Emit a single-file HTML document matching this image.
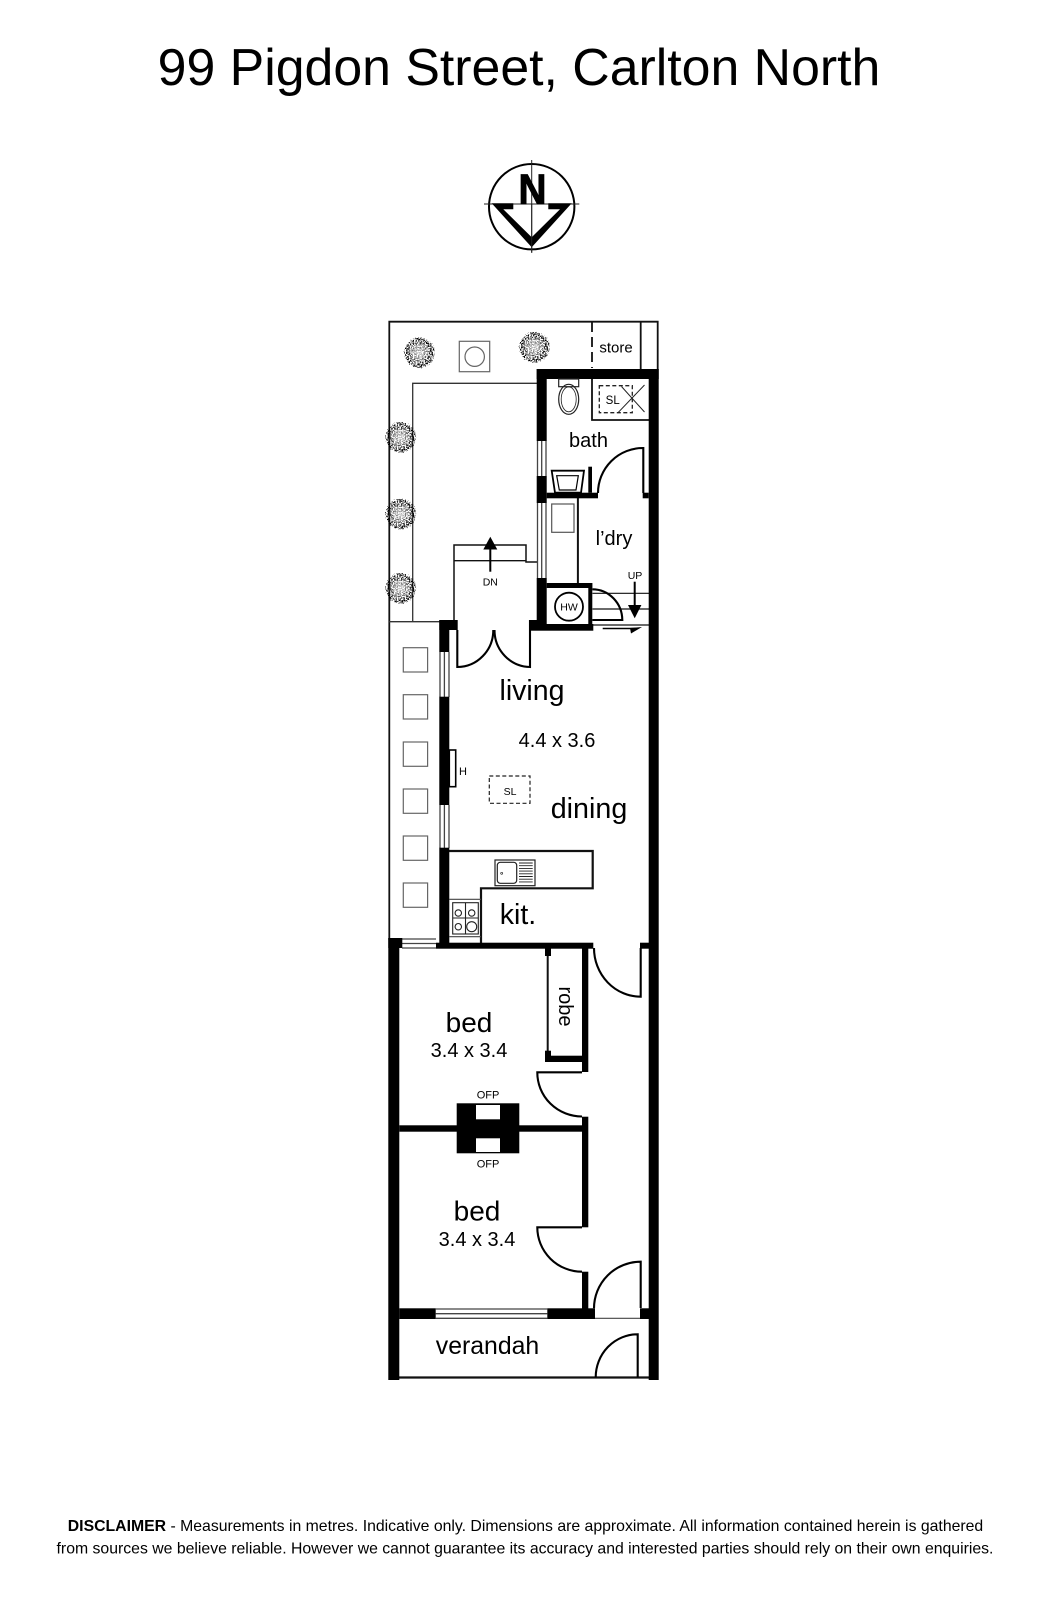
<!DOCTYPE html>
<html><head><meta charset="utf-8"><style>
html,body{margin:0;padding:0;background:#fff}
svg{display:block}
text{font-family:"Liberation Sans",Arial,sans-serif;fill:#000;text-anchor:middle;dominant-baseline:alphabetic}
</style></head><body>
<svg width="1048" height="1600" viewBox="0 0 1048 1600" xmlns="http://www.w3.org/2000/svg">
<defs>
<filter id="sp" x="-30%" y="-30%" width="160%" height="160%">
<feTurbulence type="fractalNoise" baseFrequency="0.75" numOctaves="2" seed="4" result="n"/>
<feDisplacementMap in="SourceGraphic" in2="n" scale="5" xChannelSelector="R" yChannelSelector="G" result="shape"/>
<feColorMatrix in="n" type="matrix" values="0 0 0 0 0  0 0 0 0 0  0 0 0 0 0  7 0 0 0 -3.1" result="d"/>
<feComposite in="d" in2="shape" operator="in"/>
</filter>
<radialGradient id="lg"><stop offset="0" stop-color="#fff" stop-opacity=".7"/><stop offset=".6" stop-color="#fff" stop-opacity=".4"/><stop offset="1" stop-color="#fff" stop-opacity="0"/></radialGradient>
<g id="plant"><circle r="15" fill="#000" filter="url(#sp)"/><circle cx="-1" cy="0" r="12" fill="url(#lg)"/></g>
</defs>
<rect width="1048" height="1600" fill="#fff"/>

<text x="519" y="85" font-size="51.8">99 Pigdon Street, Carlton North</text>

<!-- compass -->
<circle cx="531.7" cy="206.7" r="42.7" fill="none" stroke="#000" stroke-width="2"/>
<path d="M531.7 160V252.7M484 204H579.3" stroke="#222" stroke-width="1"/>
<text x="532.5" y="204" font-size="43" font-weight="bold" textLength="28" lengthAdjust="spacingAndGlyphs" stroke="#000" stroke-width="1">N</text>
<polygon points="491.7,203.3 513.3,203.3 513.3,209.3 503.3,209.3 531.7,237.3 560,209.3 548.3,209.3 548.3,203.3 571.7,203.3 531.7,247.3" fill="#000"/>
<path d="M531.7 204V252.7" stroke="#222" stroke-width="1"/>

<!-- thin outlines -->
<g fill="none" stroke="#111" stroke-width="1.8">
<path d="M389.3 940V321.7H657.7V370"/>
<path d="M640.7 322V370"/>
<path d="M412.7 621.7V383.3H537" stroke="#333" stroke-width="1.3"/>
<path d="M389 621.7H440" stroke="#333" stroke-width="1.3"/>
<path d="M592 322V368" stroke-dasharray="10 5"/>
<path d="M592 379V420H649"/>
<path d="M454 620V545H526V562H537" stroke-width="1.5"/>
<path d="M454 560.7H526" stroke-width="1.3"/>
<path d="M577.9 498V584" stroke-width="2"/>
<path d="M592.5 593.3H649M592.5 609H649M592.5 625H649" stroke-width="1.2"/>
<path d="M449 851H592.7V888.3H481V943" stroke-width="2.2"/>
<path d="M449.3 899.3H481M449.3 936.7H481" stroke-width="1.2" stroke="#444"/>
<path d="M547.7 950V1055" stroke-width="2"/>
<path d="M594 1318.3H649" stroke-width="1.2" stroke="#444"/>
<path d="M399 1377.5H649" stroke-width="2.2"/>
</g>

<!-- windows -->
<g fill="none" stroke="#444" stroke-width="1.3">
<path d="M537.5 441V476M541.7 441V476M546 441V476"/>
<path d="M537.5 503V578M541.7 503V578M546 503V578"/>
<path d="M440 652V697M444.4 652V697M449 652V697"/>
<path d="M440 805V848M444.4 805V848M449 805V848"/>
<path d="M402 939H436M402 943.5H436M402 948H436"/>
<path d="M435.7 1309H547.3M435.7 1313.7H547.3M435.7 1318.3H547.3"/>
</g>

<!-- thick walls -->
<g fill="#000">
<rect x="536.7" y="369" width="122" height="10"/>
<rect x="648.7" y="369" width="10" height="1011"/>
<rect x="536.7" y="369" width="10" height="72"/>
<rect x="536.7" y="476" width="10" height="27"/>
<rect x="536.7" y="578" width="10" height="52"/>
<rect x="546.7" y="492.7" width="51.3" height="5.6"/>
<rect x="642.7" y="492.7" width="6" height="5.6"/>
<rect x="588.3" y="466.7" width="3.7" height="26"/>
<rect x="546.7" y="583" width="45.6" height="5"/>
<rect x="588.3" y="583" width="4" height="46"/>
<rect x="530" y="624" width="63.3" height="6.7"/>
<rect x="530" y="620" width="10" height="10"/>
<rect x="439.3" y="620" width="10" height="32"/>
<rect x="439.3" y="620" width="18.4" height="10"/>
<rect x="439.3" y="696.7" width="10" height="108.3"/>
<rect x="439.3" y="847.7" width="10" height="100"/>
<rect x="436" y="942.7" width="157.3" height="6"/>
<rect x="640" y="942.7" width="9" height="6"/>
<rect x="388.3" y="938" width="11" height="442"/>
<rect x="388.3" y="938" width="14" height="10"/>
<rect x="582" y="948" width="6.3" height="124"/>
<rect x="545" y="948" width="6" height="8"/>
<rect x="545" y="1050.7" width="6" height="11.3"/>
<rect x="545" y="1055.7" width="37" height="6.3"/>
<rect x="582" y="1116.7" width="6.3" height="110.6"/>
<rect x="582" y="1271.7" width="6.3" height="46"/>
<rect x="399.3" y="1125.3" width="182.7" height="6.4"/>
<rect x="456.7" y="1103.3" width="62.6" height="50"/>
<rect x="399.3" y="1308.3" width="36.4" height="10.7"/>
<rect x="547.3" y="1308.3" width="47.7" height="10.7"/>
<rect x="640" y="1308.3" width="9" height="10.7"/>
</g>
<rect x="476" y="1105" width="24" height="14.3" fill="#fff"/>
<rect x="476" y="1138.3" width="24" height="13.7" fill="#fff"/>

<!-- doors -->
<g fill="none" stroke="#000" stroke-width="2.1">
<path d="M598 493A45 45 0 0 1 643.3 448V493"/>
<path d="M592.3 589.3A30 31 0 0 1 622.3 620H592.3"/>
<path d="M457.3 630V667A36 37 0 0 0 493.3 630"/>
<path d="M530 620V667A36 37 0 0 1 494.5 630"/>
<path d="M594 948A46.7 48.7 0 0 0 640.7 996.7V948"/>
<path d="M582 1072.3H537.3A44.7 44 0 0 0 582 1116.5"/>
<path d="M582 1227.3H537.3A44.7 44.4 0 0 0 582 1271.7"/>
<path d="M594 1308.3A46.7 46.7 0 0 1 640.7 1261.7V1308"/>
<path d="M595.7 1377.3A42 43 0 0 1 637.7 1334.3V1377.3"/>
</g>

<!-- arrows -->
<path d="M490.3 571.7V545" stroke="#000" stroke-width="2"/>
<polygon points="490.3,536.7 497.3,549.5 483.3,549.5" fill="#000"/>
<path d="M634.7 581.7V608" stroke="#000" stroke-width="2"/>
<polygon points="634.7,618.3 628,605 641.4,605" fill="#000"/>
<path d="M602.7 628.5H637" stroke="#000" stroke-width="1.6"/>
<polygon points="630,628 642,627 631,633.5" fill="#000"/>

<!-- bathroom fixtures -->
<g fill="none" stroke="#222" stroke-width="1.2">
<rect x="558.7" y="379" width="20" height="7.7"/>
<ellipse cx="568.7" cy="399.3" rx="10" ry="15"/>
<ellipse cx="568.7" cy="399.3" rx="7.5" ry="12.5" stroke-width=".8"/>
</g>
<rect x="599.3" y="385.7" width="33" height="27" fill="none" stroke="#222" stroke-width="1.3" stroke-dasharray="4 2.5"/>
<path d="M618 412.7L644.5 385M621.5 386.5L644.5 412" stroke="#222" stroke-width="1" fill="none"/>
<g fill="none" stroke="#000">
<polygon points="551.7,470.7 584,470.7 581,492.7 555,492.7" stroke-width="1.8"/>
<polygon points="556.7,475.7 578.3,475.7 576,490 559.3,490" stroke-width="1.2"/>
</g>
<rect x="551.7" y="504" width="22.3" height="28.3" fill="none" stroke="#555" stroke-width="1.2"/>
<circle cx="569" cy="606.7" r="14" fill="none" stroke="#000" stroke-width="1.8"/>

<!-- outdoor -->
<g fill="none" stroke="#666" stroke-width="1.2">
<rect x="459.3" y="341.3" width="30.4" height="30.4"/>
<circle cx="474.7" cy="356.7" r="9.7"/>
<rect x="403.3" y="647.7" width="24.3" height="24.3"/>
<rect x="403.3" y="694.7" width="24.3" height="24.3"/>
<rect x="403.3" y="742" width="24.3" height="24.3"/>
<rect x="403.3" y="789" width="24.3" height="24.3"/>
<rect x="403.3" y="836" width="24.3" height="24.3"/>
<rect x="403.3" y="883" width="24.3" height="24.3"/>
</g>
<use href="#plant" x="420" y="352.7"/>
<use href="#plant" x="535" y="347.3"/>
<use href="#plant" x="401.3" y="437.3"/>
<use href="#plant" x="401.3" y="514"/>
<use href="#plant" x="401.3" y="588.3"/>

<!-- heater / SL -->
<rect x="449.3" y="750" width="6.4" height="36.7" fill="none" stroke="#000" stroke-width="1.6"/>
<rect x="489.3" y="776" width="40.7" height="27.3" fill="none" stroke="#222" stroke-width="1.2" stroke-dasharray="4 2.5"/>

<!-- sink -->
<g fill="none" stroke="#222">
<rect x="495" y="860" width="40" height="25.7" stroke-width="1.2"/>
<rect x="497.3" y="862.3" width="19.4" height="21" rx="3" stroke-width="1.2"/>
<circle cx="501.7" cy="873.3" r="1" stroke-width=".7"/>
<path d="M519 863H532.7M519 865.7H532.7M519 868.4H532.7M519 871.1H532.7M519 873.8H532.7M519 876.5H532.7M519 879.2H532.7M519 881.9H532.7" stroke-width=".9"/>
</g>
<!-- stove -->
<g fill="none" stroke="#222" stroke-width="1.1">
<rect x="452.7" y="902.7" width="25.6" height="31.3"/>
<path d="M465.5 903V934M453 918H478"/>
<circle cx="458.3" cy="913" r="3.2" fill="#fff"/>
<circle cx="471.7" cy="913" r="3.2" fill="#fff"/>
<circle cx="458.3" cy="926.7" r="3.2" fill="#fff"/>
<circle cx="471.7" cy="926.7" r="5" fill="#fff"/>
</g>

<!-- labels -->
<text x="616" y="352.5" font-size="15">store</text>
<text x="612.7" y="404" font-size="11.5">SL</text>
<text x="588.5" y="447" font-size="20">bath</text>
<text x="614" y="545" font-size="20">l&#8217;dry</text>
<text x="635" y="579" font-size="10.5">UP</text>
<text x="569" y="610.5" font-size="10.5">HW</text>
<text x="490.3" y="585.5" font-size="10.5">DN</text>
<text x="532" y="700" font-size="28.5">living</text>
<text x="557" y="747" font-size="20">4.4 x 3.6</text>
<text x="463" y="775" font-size="11">H</text>
<text x="510" y="795" font-size="10.5">SL</text>
<text x="589" y="818" font-size="28.7">dining</text>
<text x="518" y="924" font-size="28.5">kit.</text>
<text x="469" y="1032" font-size="28">bed</text>
<text x="469" y="1057" font-size="20">3.4 x 3.4</text>
<text transform="translate(559,1006.5) rotate(90)" font-size="20">robe</text>
<text x="488" y="1098.5" font-size="11">OFP</text>
<text x="488" y="1167.5" font-size="11">OFP</text>
<text x="477" y="1220.5" font-size="28">bed</text>
<text x="477" y="1246" font-size="20">3.4 x 3.4</text>
<text x="487.5" y="1354" font-size="24.8">verandah</text>

<!-- disclaimer -->
<text x="525.5" y="1531" font-size="15.8"><tspan font-weight="bold">DISCLAIMER</tspan> - Measurements in metres. Indicative only. Dimensions are approximate. All information contained herein is gathered</text>
<text x="525" y="1553.5" font-size="15.8">from sources we believe reliable. However we cannot guarantee its accuracy and interested parties should rely on their own enquiries.</text>
</svg>
</body></html>
